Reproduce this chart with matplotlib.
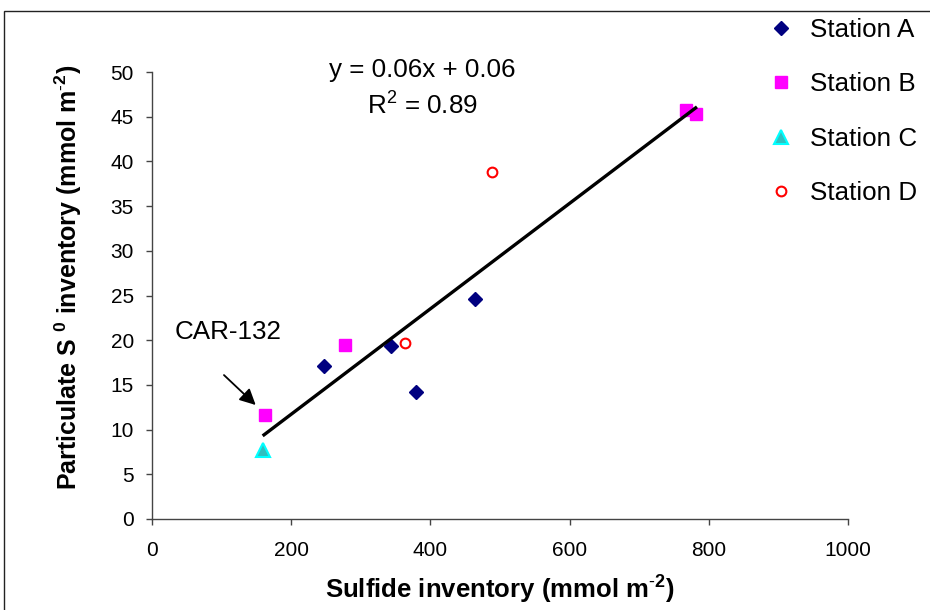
import matplotlib
matplotlib.use("Agg")
import matplotlib.pyplot as plt
from matplotlib.patches import Rectangle
from matplotlib.lines import Line2D

plt.rcParams['font.family'] = ['Liberation Sans', 'DejaVu Sans']
plt.rcParams['mathtext.fontset'] = 'custom'
plt.rcParams['mathtext.rm'] = 'Liberation Sans'
plt.rcParams['mathtext.bf'] = 'Liberation Sans:bold'
plt.rcParams['mathtext.default'] = 'regular'

# Data
a_x = [247, 343, 379, 464]
a_y = [17.1, 19.35, 14.2, 24.6]
b_x = [163, 277, 767, 782]
b_y = [11.6, 19.5, 45.7, 45.3]
c_x = [159]
c_y = [7.7]
d_x = [364, 489]
d_y = [19.65, 38.8]
trend_x = [159, 783]
trend_y = [9.3, 46.1]
x_ticks = [0, 200, 400, 600, 800, 1000]
y_ticks = [0, 5, 10, 15, 20, 25, 30, 35, 40, 45, 50]

W, H = 930, 610
fig = plt.figure(figsize=(W / 100, H / 100), dpi=100)
ax = fig.add_axes([152 / W, 1 - 519 / H, (848 - 152) / W, (519 - 72) / H])

# Figure border (left and top visible)
fig.add_artist(Rectangle((4 / W, -0.1), 1.2, 1.1 - 11 / H, fill=False,
                         edgecolor='#222222', lw=1.0, transform=fig.transFigure))

ax.plot(trend_x, trend_y, color='black', lw=2.4, zorder=5, solid_capstyle='butt')
ax.plot(a_x, a_y, 'D', color='#000080', ms=7.5, mec='#000080', ls='none', zorder=4)
ax.plot(b_x, b_y, 's', color='#FF00FF', ms=8, mec='#FF00FF', ls='none', zorder=4)
ax.plot(c_x, c_y, '^', color='#30C0C0', ms=9.5, mec='#00FFFF', mew=1.5, ls='none', zorder=4)
ax.plot(d_x, d_y, 'o', mfc='white', mec='#FF0000', ms=7, mew=1.5, ls='none', zorder=4)

ax.set_xlim(0, 1000)
ax.set_ylim(0, 50)
ax.set_xticks(x_ticks)
ax.set_yticks(y_ticks)
ax.tick_params(direction='out', length=4, width=1, color='#444444', labelsize=15)
ax.tick_params(axis='x', pad=12)
ax.tick_params(axis='y', pad=9)
for s in ['top', 'right']:
    ax.spines[s].set_visible(False)
for s in ['left', 'bottom']:
    ax.spines[s].set_color('#444444')
    ax.spines[s].set_linewidth(1)

ax.set_xlabel(r'Sulfide inventory (mmol m$^{\text{-}2}$)', fontsize=18.5, fontweight='bold')
ax.xaxis.set_label_coords(0.5, -0.123)
ax.set_ylabel(r'Particulate S $^{0}$ inventory (mmol m$^{\text{-}2}$)', fontsize=18, fontweight='bold')
ax.yaxis.set_label_coords(-0.098, 0.541)

ax.text(389, 50.2, 'y = 0.06x + 0.06', fontsize=18.7, ha='center', va='center')
ax.text(389, 46.2, 'R$^2$ = 0.89', fontsize=18.7, ha='center', va='center')

ax.text(33, 20.9, 'CAR-132', fontsize=18.7, ha='left', va='center')
ax.annotate('', xy=(149, 12.75), xytext=(103.4, 16.1),
            arrowprops=dict(arrowstyle='-|>', color='black', lw=1.3,
                            mutation_scale=24, shrinkA=0, shrinkB=0))

handles = [
    Line2D([], [], marker='D', color='#000080', ms=7.5, ls='none'),
    Line2D([], [], marker='s', color='#FF00FF', ms=8, ls='none'),
    Line2D([], [], marker='^', color='#30C0C0', mec='#00FFFF', mew=1.5, ms=9.5, ls='none'),
    Line2D([], [], marker='o', mfc='white', mec='#FF0000', mew=1.5, ms=7, ls='none'),
]
labels = ['Station A', 'Station B', 'Station C', 'Station D']
fig.legend(handles, labels, loc='upper left', bbox_to_anchor=(771 / W, 1 - 18 / H),
           frameon=False, fontsize=18.7, borderpad=0, borderaxespad=0,
           handlelength=0.8, handletextpad=0.72, labelspacing=1.17)

fig.savefig('out.png', dpi=100)
